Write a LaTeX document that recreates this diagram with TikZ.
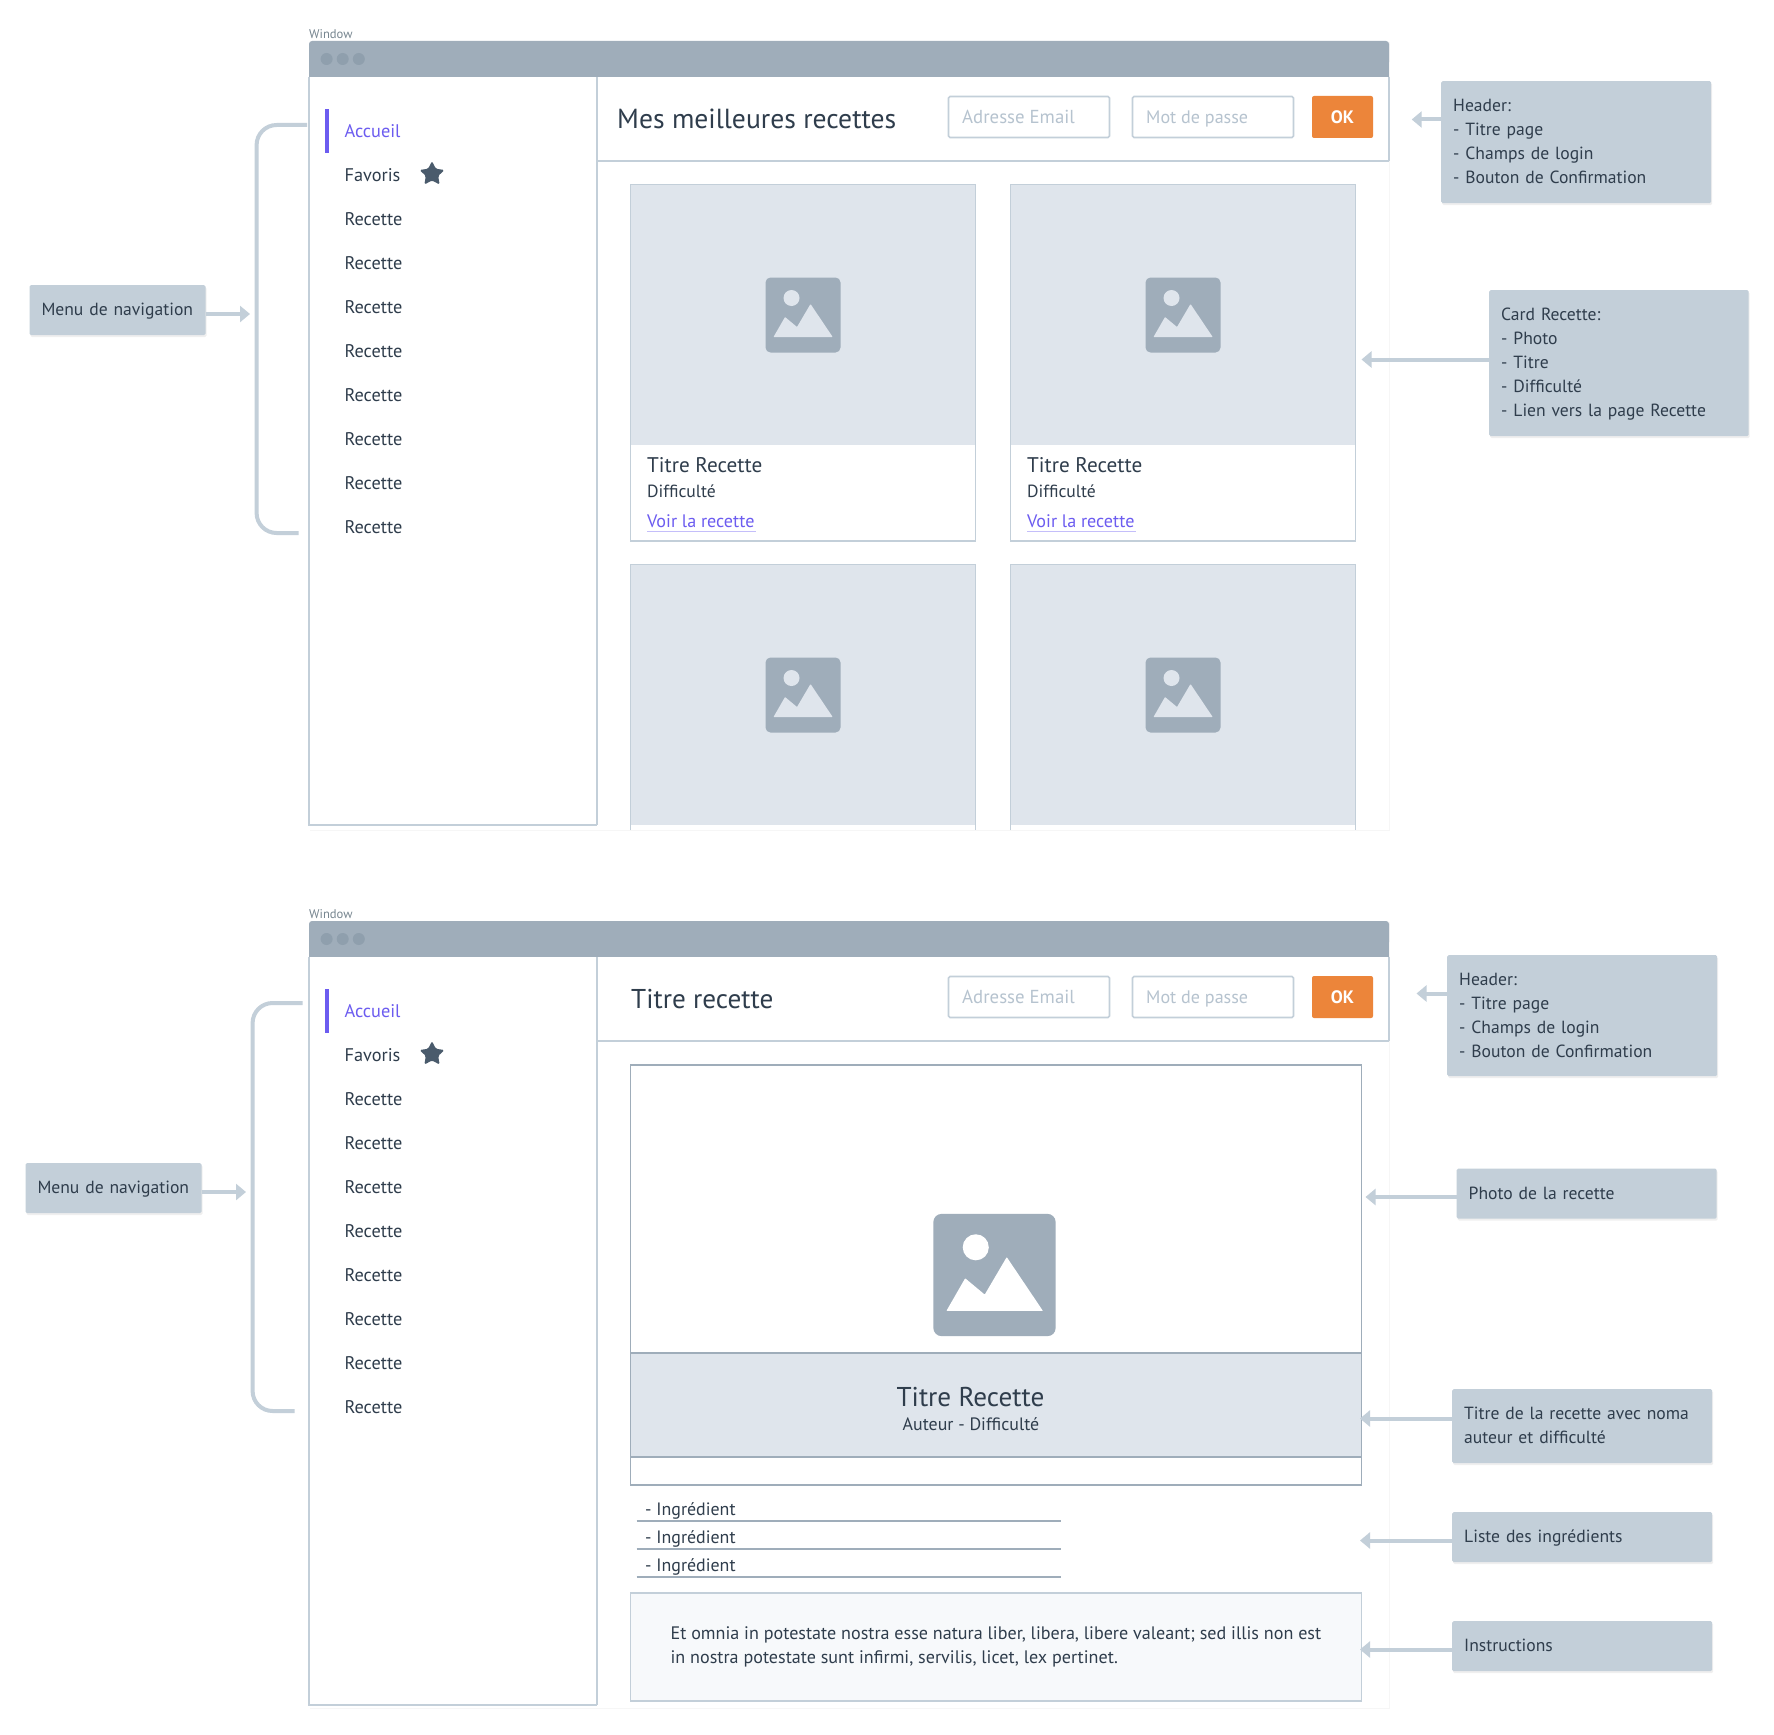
\documentclass[tikz,border=0pt]{standalone}
\usepackage{fontspec}
\setmainfont{PT Sans}
\usepackage{tikz}
\usetikzlibrary{arrows.meta,shapes.geometric,shadows}

\definecolor{slate}{HTML}{9FADBA}
\definecolor{slatedot}{HTML}{8F9FAD}
\definecolor{edge}{HTML}{C3CFD9}
\definecolor{pale}{HTML}{DFE5EC}
\definecolor{ink}{HTML}{2F3D4C}
\definecolor{violet}{HTML}{6C5CF0}
\definecolor{violetlight}{HTML}{C4BEFA}
\definecolor{hint}{HTML}{B6C3CF}
\definecolor{starblue}{HTML}{4A5B6C}
\definecolor{okorange}{HTML}{EC853A}
\definecolor{mist}{HTML}{F7F9FB}
\definecolor{caption}{HTML}{76858F}

\newcommand{\fs}[2]{\fontsize{#1}{#2}\selectfont}

% image placeholder: x, y, scale, colour of the mountains
\newcommand{\photoicon}[4]{
    \begin{scope}[shift={(#1,#2)},scale=#3]
        \fill[slate,rounded corners=#3*5pt] (-37.5,-37.5) rectangle (37.5,37.5);
        \fill[#4] (-11.5,-17) circle (8);
        \fill[#4,rounded corners=0.6pt] (-29.5,22) -- (-18,2) -- (-6,12) -- (7.5,-11) -- (29.7,22) -- cycle;
    \end{scope}
}

\tikzset{
    txt/.style={anchor=west,inner sep=0pt,text=ink},
    fsize/.style={font=\fs{#1}{24},text height=0.9*#1pt,text depth=0.194*#1pt},
    menuitem/.style={txt,fsize=18.3},
    hinttxt/.style={txt,text=hint,fsize=18.5},
    field/.style={draw=edge,line width=1.6pt,fill=white,rounded corners=1.5pt},
    callout/.style 2 args={anchor=north west,inner xsep=12pt,inner ysep=0pt,fill=edge,rounded corners=1.5pt,
        minimum width=#1pt,minimum height=#2pt,text width=#1pt-24pt,align=left,text=ink,font=\fs{17.6}{24},
        execute at begin node={\rule{0pt}{16.5pt}},
        execute at end node={\rule[-5pt]{0pt}{5pt}},
        drop shadow={shadow xshift=1pt,shadow yshift=-2pt,opacity=0.12}},
    callarrow/.style={draw=edge,line width=4pt,-{Triangle[length=10pt,width=16pt]}},
    bracket/.style={draw=edge,line width=4pt,rounded corners=20pt},
}

\begin{document}
\begin{tikzpicture}[x=1pt,y=-1pt]
    \path[use as bounding box,fill=white] (0,0) rectangle (1774,1734);

    % Draw the two windows
    \foreach \w/\dy/\wbot/\sbot in {A/0/830/825,B/880/1708/1705} {
        \fill[white,drop shadow={shadow xshift=1pt,shadow yshift=-1pt,opacity=0.07}] (309,41+\dy) rectangle (1389,\wbot);

        % sidebar and header
        \draw[edge,line width=1.2pt] (309,77+\dy) -- (309,\sbot) -- (597,\sbot);
        \draw[edge,line width=1.8pt] (597,77+\dy) -- (597,\sbot);
        \draw[edge,line width=1.2pt] (1389,77+\dy) -- (1389,161+\dy);
        \draw[edge,line width=1.8pt] (1389,161+\dy) -- (597,161+\dy);

        % title bar
        \fill[slate,rounded corners=3pt] (309,41+\dy) rectangle (1389,65+\dy);
        \fill[slate] (309,55+\dy) rectangle (1389,77+\dy);
        \foreach \d in {326.6,342.7,358.8} {
            \fill[slatedot] (\d,59+\dy) circle (6);
        }
        \node[txt,text=caption,fsize=12.6] (window\w) at (309,34+\dy) {Window};

        % menu
        \fill[violet] (325,109+\dy) rectangle (329,153+\dy);
        \node[menuitem,text=violet] (home\w) at (344.4,131+\dy) {Accueil};
        \node[menuitem] (fav\w) at (344.4,175+\dy) {Favoris};
        \node[star,star points=5,star point ratio=2.0,fill=starblue,minimum size=26pt,inner sep=0pt,rounded corners=1.5pt] (star\w) at (432,174+\dy) {};
        \foreach \i in {0,...,7} {
            \node[menuitem] (item\w\i) at (344.4,219+44*\i+\dy) {Recette};
        }

        % login fields
        \draw[field] (948.5,96.5+\dy) rectangle (1109.5,137.5+\dy);
        \draw[field] (1132.5,96.5+\dy) rectangle (1293.5,137.5+\dy);
        \node[hinttxt,fsize=18.8] (mail\w) at (962,117+\dy) {Adresse Email};
        \node[hinttxt,fsize=18.1] (pass\w) at (1146,117+\dy) {Mot de passe};
        \fill[okorange,rounded corners=2pt] (1312,96+\dy) rectangle (1373,138+\dy);
        \node[txt,anchor=center,text=white,fsize=18,font=\fs{18}{24}\bfseries] (ok\w) at (1342.5,117+\dy) {OK};
    }

    \node[txt,fsize=27.6] (titleA) at (617,119) {Mes meilleures recettes};
    \node[txt,fsize=27.2] (titleB) at (631,999) {Titre recette};

    % Draw the recipe cards of the first window
    \foreach \c/\cx in {1/630.5,2/1010.5} {
        \fill[pale] (\cx,184) rectangle (\cx+345,445);
        \draw[edge,line width=1.6pt] (\cx,445) -- (\cx,541) -- (\cx+345,541) -- (\cx+345,445);
        \draw[edge,line width=0.8pt] (\cx,445) -- (\cx,184) -- (\cx+345,184) -- (\cx+345,445);
        \photoicon{\cx+172.5}{315}{1}{pale}
        \node[txt,fsize=21.2] (cardtitle\c) at (\cx+16.5,465) {Titre Recette};
        \node[txt,fsize=17.6] (cardlevel\c) at (\cx+16.5,491) {Difficulté};
        \node[txt,text=violet,fsize=18.1] (cardlink\c) at (\cx+16.5,521) {Voir la recette};
        \draw[violetlight,line width=1.5pt] (\cx+16.5,531.5) -- (\cx+125,531.5);

        % second row is cut by the window
        \fill[pale] (\cx,564) rectangle (\cx+345,825);
        \draw[edge,line width=0.8pt] (\cx,830) -- (\cx,564) -- (\cx+345,564) -- (\cx+345,830);
        \photoicon{\cx+172.5}{695}{1}{pale}
    }

    % Draw the recipe page of the second window
    \fill[pale] (630.5,1353) rectangle (1361.5,1457);
    \draw[slate,line width=1.8pt] (630.5,1065) rectangle (1361.5,1485);
    \draw[slate,line width=1.8pt] (630.5,1353) -- (1361.5,1353);
    \draw[slate,line width=1.8pt] (630.5,1457) -- (1361.5,1457);
    \photoicon{994.5}{1275}{1.63}{white}
    \node[txt,anchor=center,fsize=27.2] (rectitle) at (970.5,1397) {Titre Recette};
    \node[txt,anchor=center,fsize=17.9] (recauthor) at (971,1424) {Auteur - Difficulté};

    \foreach \k in {0,1,2} {
        \node[txt,fsize=17.9] (ingredient\k) at (645,1509+28*\k) {- Ingrédient};
        \draw[slate,line width=1.6pt] (636.7,1520.7+28*\k) -- (1061,1520.7+28*\k);
    }

    \draw[edge,fill=mist,line width=1.8pt] (630.5,1593) rectangle (1361.5,1701);
    \node[txt,anchor=north west,align=left,font=\fs{18.1}{24}] (steps) at (670.4,1626)
        {Et omnia in potestate nostra esse natura liber, libera, libere valeant; sed illis non est\\
         in nostra potestate sunt infirmi, servilis, licet, lex pertinet.};

    % Callouts
    \node[callout={176}{50}] (navA) at (29.3,285) {Menu de navigation};
    \node[callout={270}{122}] (headA) at (1441,81) {Header:\\- Titre page\\- Champs de login\\- Bouton de Confirmation};
    \node[callout={259.5}{146}] (cardA) at (1489,290) {Card Recette:\\- Photo\\- Titre\\- Difficulté\\- Lien vers la page Recette};
    \node[callout={176}{50}] (navB) at (25.3,1163) {Menu de navigation};
    \node[callout={270}{121}] (headB) at (1447,955) {Header:\\- Titre page\\- Champs de login\\- Bouton de Confirmation};
    \node[callout={260}{50}] (photoB) at (1456.5,1168.5) {Photo de la recette};
    \node[callout={260}{74}] (nameB) at (1452,1389) {Titre de la recette avec noma\\auteur et difficulté};
    \node[callout={260}{50}] (listB) at (1452,1512) {Liste des ingrédients};
    \node[callout={260}{50}] (stepsB) at (1452,1621) {Instructions};

    % Arrows out of the callouts
    \coordinate (tipnavA) at (250,314);
    \coordinate (tipheadA) at (1411.7,119.5);
    \coordinate (tipcardA) at (1361.5,359.5);
    \coordinate (tipnavB) at (246,1192);
    \coordinate (tipheadB) at (1416.5,993.5);
    \coordinate (tipphotoB) at (1365.5,1197);
    \coordinate (tipnameB) at (1360,1418.5);
    \coordinate (tiplistB) at (1360,1540.5);
    \coordinate (tipstepsB) at (1360,1649.5);
    \draw[callarrow] (navA.east |- tipnavA) -- (tipnavA);
    \draw[callarrow] (navB.east |- tipnavB) -- (tipnavB);
    \foreach \n in {headA,cardA,headB,photoB,nameB,listB,stepsB} {
        \draw[callarrow] (\n.west |- tip\n) -- (tip\n);
    }

    % Brackets round the menus
    \coordinate (brtopA) at (307,125);
    \coordinate (brmidA) at (256.6,330);
    \coordinate (brbotA) at (298.5,533);
    \coordinate (brtopB) at (302.5,1003);
    \coordinate (brmidB) at (252.6,1200);
    \coordinate (brbotB) at (294.5,1411);
    \draw[bracket] (brtopA) -| (brmidA) |- (brbotA);
    \draw[bracket] (brtopB) -| (brmidB) |- (brbotB);
\end{tikzpicture}
\end{document}
